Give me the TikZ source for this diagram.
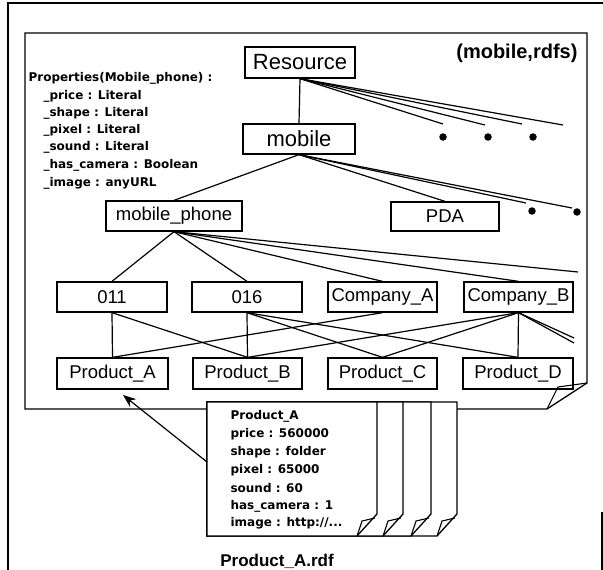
\documentclass[tikz,border=0pt]{standalone}
\usepackage{fontspec}
\setmainfont{Liberation Sans}
\newfontfamily\dvs{DejaVu Sans}
\usetikzlibrary{arrows.meta}
\begin{document}
\begin{tikzpicture}[x=1pt,y=-1pt,line width=1.1pt,
  box/.style={draw,rectangle,inner sep=0pt,line width=1.3pt,font=\fontsize{18.5}{20}\selectfont},
  bigbox/.style={box,font=\fontsize{22}{24}\selectfont},
  prop/.style={anchor=west,inner sep=0pt,font=\dvs\bfseries\fontsize{12}{14}\selectfont},
  dot/.style={circle,fill,inner sep=0pt,minimum size=7.5pt},
  page/.style={draw,fill=white,line width=1.3pt},
  conn/.style={line width=1.2pt}]
\useasboundingbox (0,0) rectangle (603,570);
% outer frame
\draw[line width=1.2pt] (8,570) -- (8,3) -- (604,3);
\draw[line width=1.2pt] (602,512) -- (602,571);
% rdfs page
\draw[line width=1.3pt] (25,33) -- (587,33) -- (587,383) -- (547,409) -- (25,409) -- cycle;
\draw[line width=1.1pt] (547,409) -- (558,387) -- (587,383);
\node[font=\bfseries\fontsize{20}{22}\selectfont,anchor=east,inner sep=0pt] (title) at (578,53) {(mobile,rdfs)};
% properties text
\node[prop] (p0) at (28,78) {Properties(Mobile\_phone) :};
\node[prop] (p1) at (43,96) {\_price : Literal};
\node[prop] (p2) at (43,113) {\_shape : Literal};
\node[prop] (p3) at (43,130) {\_pixel : Literal};
\node[prop] (p4) at (43,147) {\_sound : Literal};
\node[prop] (p5) at (43,165) {\_has\_camera : Boolean};
\node[prop] (p6) at (43,183) {\_image : anyURL};
% boxes
\node[bigbox,minimum width=110pt,minimum height=31pt] (res) at (300,62.5) {Resource};
\node[bigbox,minimum width=112pt,minimum height=30pt] (mob) at (299,139) {mobile};
\node[box,minimum width=136pt,minimum height=30pt] (mph) at (174,216) {mobile\_phone};
\node[box,minimum width=108pt,minimum height=29pt] (pda) at (445,216.5) {PDA};
\node[box,minimum width=110pt,minimum height=30pt] (o11) at (112,297) {011};
\node[box,minimum width=110pt,minimum height=30pt] (o16) at (247,297) {016};
\node[box,minimum width=109pt,minimum height=30pt] (coa) at (382.5,297) {Company\_A};
\node[box,minimum width=109pt,minimum height=30pt] (cob) at (518.5,297) {Company\_B};
\node[box,minimum width=111pt,minimum height=31pt] (pra) at (112.5,373.5) {Product\_A};
\node[box,minimum width=109pt,minimum height=31pt] (prb) at (247.5,373.5) {Product\_B};
\node[box,minimum width=109pt,minimum height=31pt] (prc) at (382.5,373.5) {Product\_C};
\node[box,minimum width=110pt,minimum height=31pt] (prd) at (518,373.5) {Product\_D};
% free ends
\coordinate (r1) at (443,124);
\coordinate (r2) at (485,125);
\coordinate (r3) at (522,124);
\coordinate (r4) at (563,125);
\coordinate (m1) at (526,203);
\coordinate (m2) at (572,208);
\coordinate (f1) at (578,272);
\coordinate (b1) at (574,338);
\coordinate (b2) at (574,343);
% dots
\node[dot] (d1) at (443,137) {};
\node[dot] (d2) at (488,137) {};
\node[dot] (d3) at (533,137) {};
\node[dot] (d4) at (532,211) {};
\node[dot] (d5) at (577,212) {};
% connectors
\draw[conn] (res.south) -- (mob.north);
\foreach \e in {r1,r2,r3,r4} \draw[conn] (res.south) -- (\e);
\draw[conn] (mob.south) -- (mph.north);
\draw[conn] (mob.south) -- (pda.north);
\draw[conn] (mob.south) -- (m1);
\draw[conn] (mob.south) -- (m2);
\draw[conn] (mph.south) -- (o11.north);
\draw[conn] (mph.south) -- (o16.north);
\draw[conn] (mph.south) -- (coa.north);
\draw[conn] (mph.south) -- (cob.north);
\draw[conn] (mph.south) -- (f1);
\draw[conn] (o11.south) -- (pra.north);
\draw[conn] (o11.south) -- (prb.north);
\draw[conn] (o16.south) -- (prb.north);
\draw[conn] (o16.south) -- (prc.north);
\draw[conn] (o16.south) -- (prd.north);
\draw[conn] (coa.south) -- (pra.north);
\draw[conn] (cob.south) -- (prb.north);
\draw[conn] (cob.south) -- (prc.north);
\draw[conn] (cob.south) -- (prd.north);
\draw[conn] (cob.south) -- (b1);
\draw[conn] (cob.south) -- (b2);
% document stack
\foreach \xr in {457,431,403,377} {
  \draw[page] (207,402) -- (\xr,402) -- (\xr,514) -- ({\xr-20},536) -- (207,536) -- cycle;
  \draw[line width=1.1pt] ({\xr-20},536) -- ({\xr-15},521) -- ({\xr-2},518);
}
\coordinate (pg) at (207,462);
\coordinate (tip) at (123,395);
\node[prop] (t1) at (230,416) {Product\_A};
\node[prop] (t2) at (230,434) {price : 560000};
\node[prop] (t3) at (230,452) {shape : folder};
\node[prop] (t4) at (230,470) {pixel : 65000};
\node[prop] (t5) at (230,488) {sound : 60};
\node[prop] (t6) at (230,506) {has\_camera : 1};
\node[prop] (t7) at (230,523) {image : http://...};
\draw[conn,-{Stealth[length=13pt,width=10pt]}] (pg) -- (tip);
\node[font=\bfseries\fontsize{17}{19}\selectfont,inner sep=0pt] (cap) at (277,561) {Product\_A.rdf};
\end{tikzpicture}
\end{document}
